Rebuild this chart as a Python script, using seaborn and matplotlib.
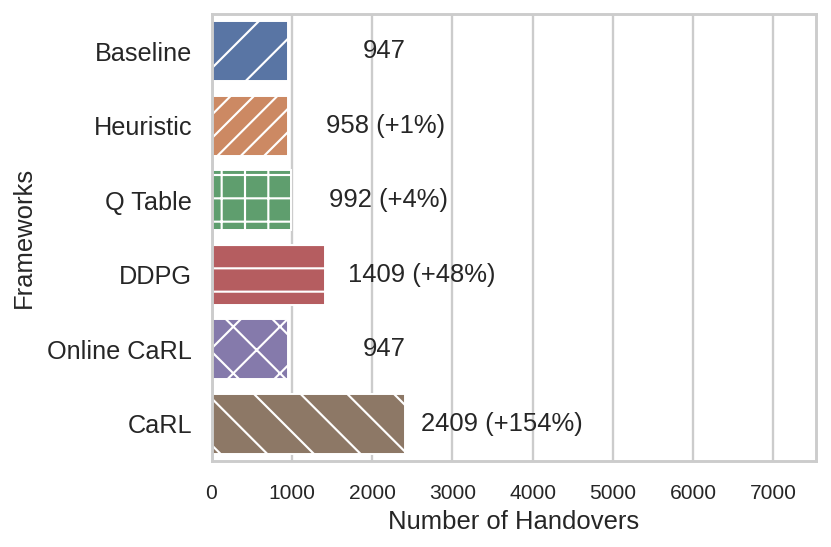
import matplotlib
matplotlib.use("Agg")
import matplotlib.pyplot as plt
import seaborn as sns
import pandas as pd

frameworks = ["Baseline", "Heuristic", "Q Table", "DDPG", "Online CaRL", "CaRL"]
handovers = [947, 958, 992, 1409, 947, 2409]
bar_labels = ["947", "958 (+1%)", "992 (+4%)", "1409 (+48%)", "947", "2409 (+154%)"]
hatches = ["//", "////", "++", "--", "xx", "\\\\"]

DPI = 280

sns.set_theme(style="whitegrid")
plt.rcParams["font.family"] = ["Liberation Sans", "DejaVu Sans"]
plt.rcParams["hatch.linewidth"] = 0.55
plt.rcParams["axes.linewidth"] = 0.75
plt.rcParams["grid.linewidth"] = 0.6

df = pd.DataFrame({"framework": frameworks, "handovers": handovers})

fig = plt.figure(figsize=(831 / DPI, 547 / DPI), dpi=DPI)
ax = fig.add_axes([211.5 / 831, 1 - 461 / 547, (816 - 211.5) / 831, (461 - 14) / 547])

sns.barplot(data=df, x="handovers", y="framework", hue="framework", palette="deep",
            legend=False, ax=ax, edgecolor="white", linewidth=0.5, width=0.8)

for bar, h in zip(ax.patches, hatches):
    bar.set_hatch(h)

for i, (v, lab) in enumerate(zip(handovers, bar_labels)):
    ax.text(v + 1210, i, lab, ha="center", va="center", fontsize=6.6, color=".15")

ax.set_xlim(0, 7530)
ax.set_xticks(range(0, 8000, 1000))
ax.tick_params(axis="x", labelsize=5.4, pad=5.8, length=0)
ax.tick_params(axis="y", labelsize=6.5, pad=5, length=0)
ax.set_xlabel("Number of Handovers", fontsize=6.6, labelpad=2)
ax.set_ylabel("Frameworks", fontsize=6.6, labelpad=3)

fig.savefig("out.png", dpi=DPI)
